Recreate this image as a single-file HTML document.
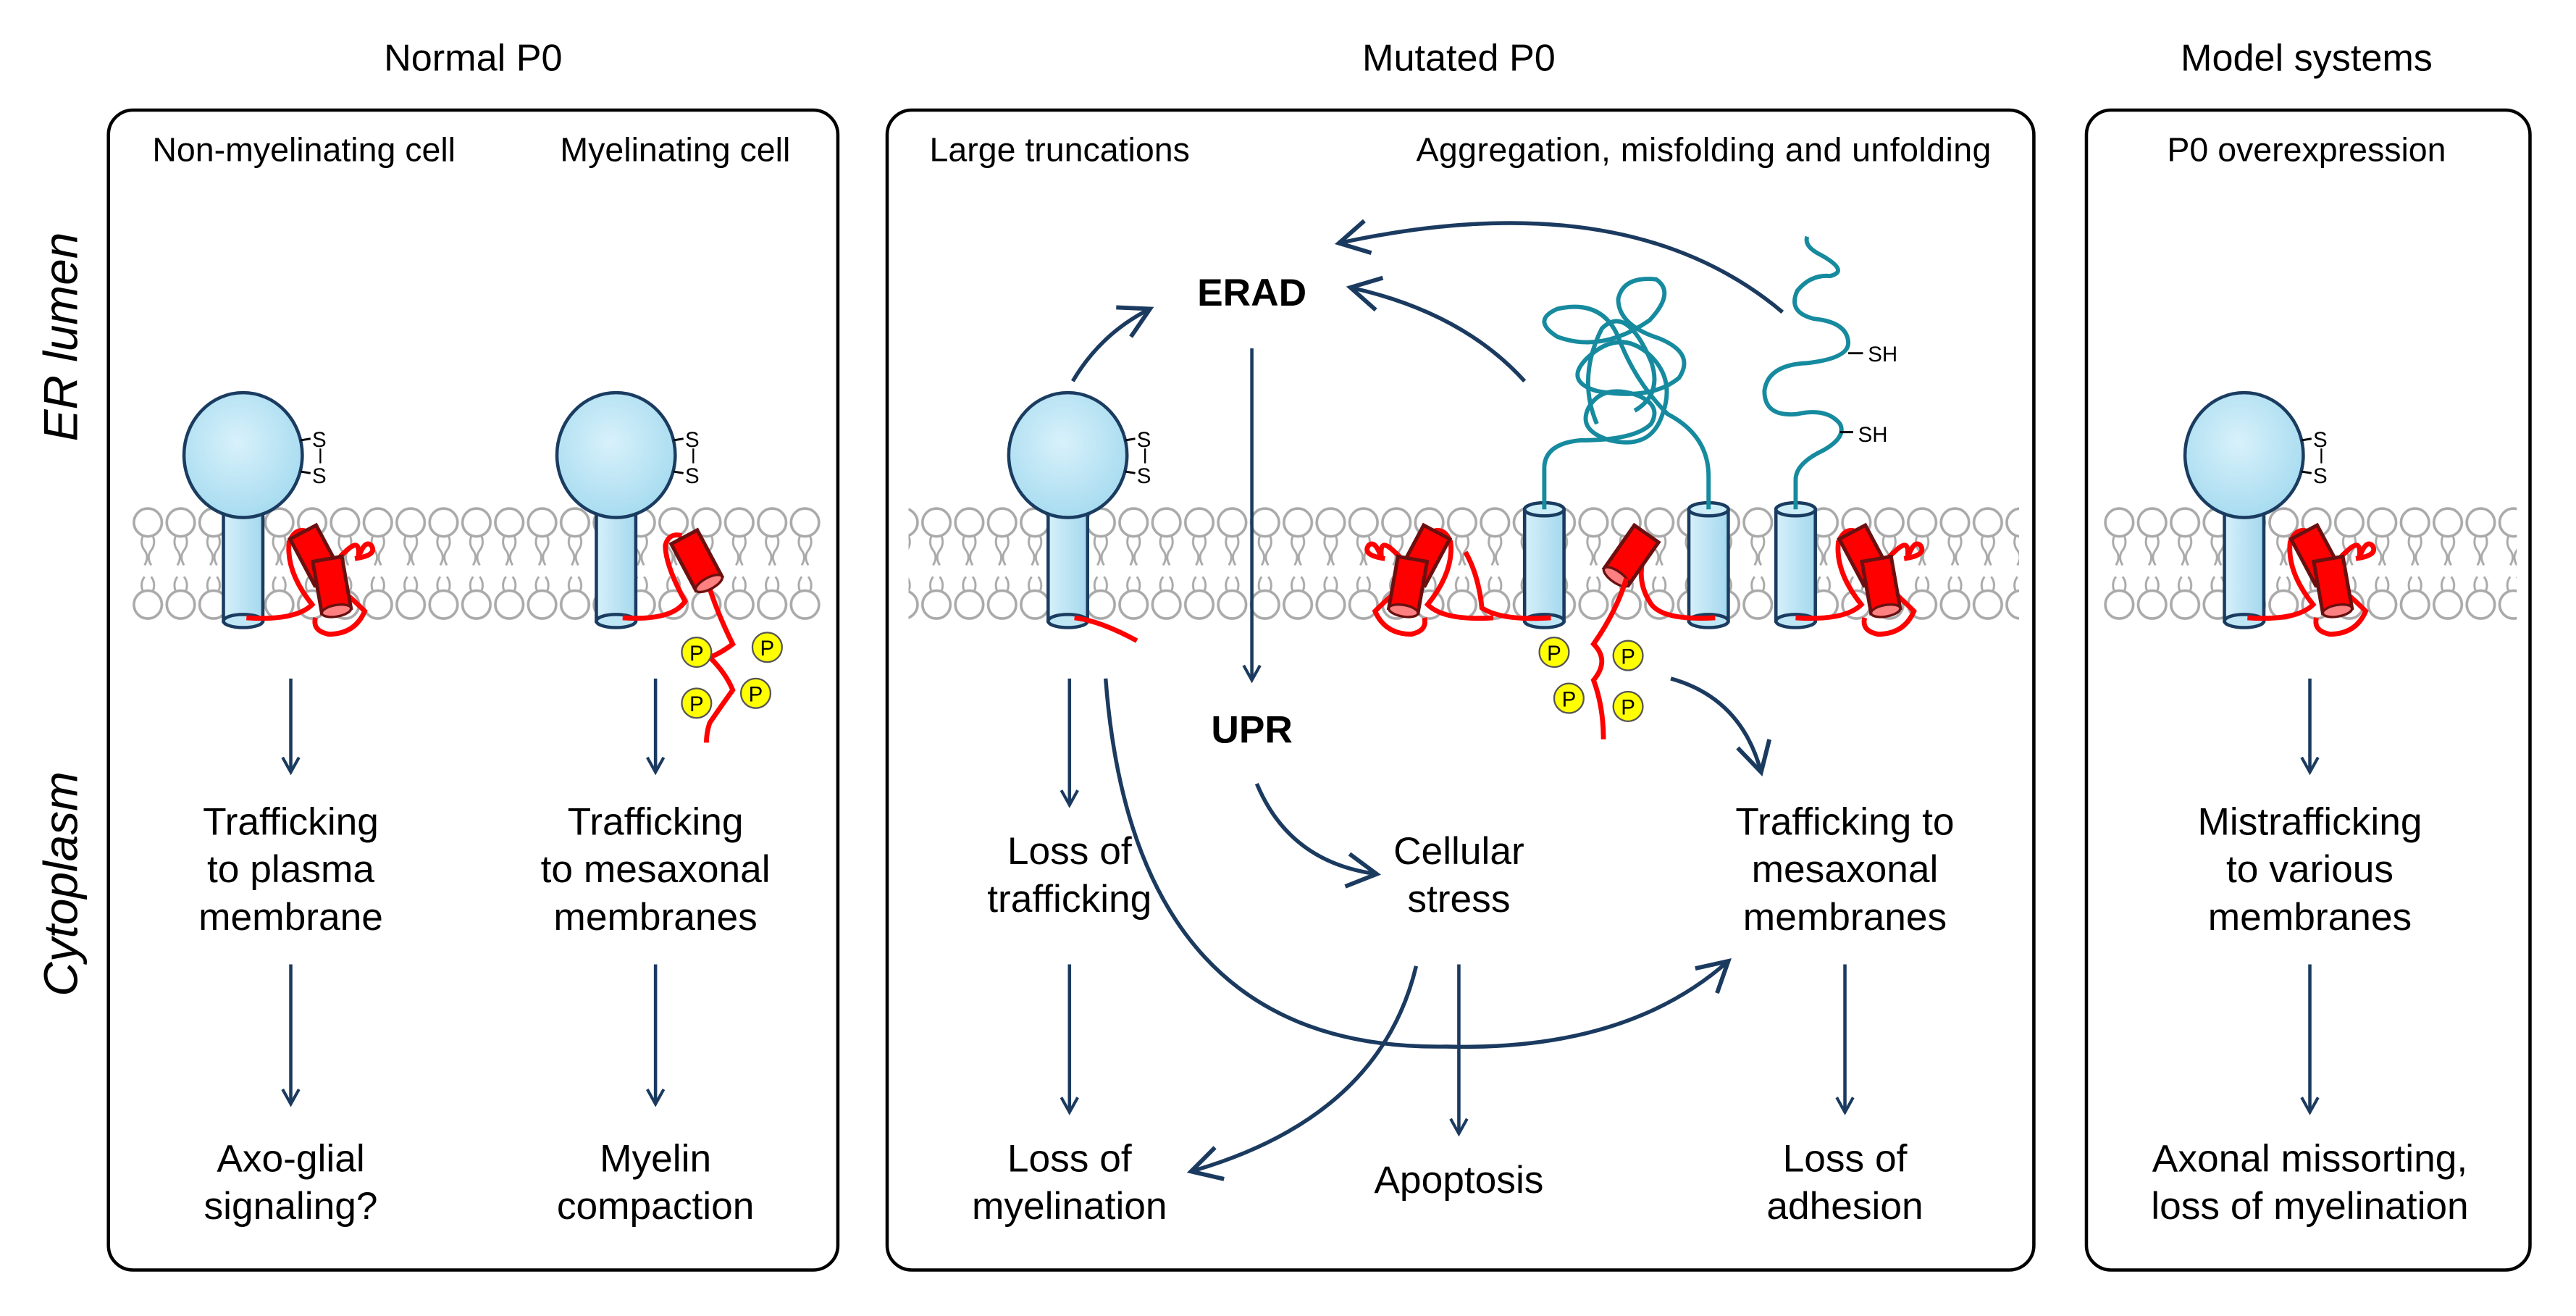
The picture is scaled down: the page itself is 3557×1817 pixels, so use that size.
<!DOCTYPE html>
<html><head><meta charset="utf-8"><style>
html,body{margin:0;padding:0;background:#fff}
svg{display:block}
text{font-family:"Liberation Sans",Arial,sans-serif;fill:#000}
</style></head><body>
<svg width="3557" height="1817" viewBox="0 0 1568 801" preserveAspectRatio="none" xmlns="http://www.w3.org/2000/svg">
<defs>
<pattern id="lip" x="0" y="0" width="20" height="801" patternUnits="userSpaceOnUse">
 <circle cx="10" cy="318" r="8.5" fill="#fff" stroke="#aaa" stroke-width="1.6"/>
 <circle cx="10" cy="368" r="8.5" fill="#fff" stroke="#aaa" stroke-width="1.6"/>
 <path d="M7 326 q-2 5 1 9 q3 4 0 9 M13 326 q2 5 -1 9 q-3 4 0 9 M7 360 q-2 -5 1 -9 M13 360 q2 -5 -1 -9" fill="none" stroke="#aaa" stroke-width="1.3"/>
</pattern>
<radialGradient id="bg" cx="0.45" cy="0.4" r="0.6"><stop offset="0" stop-color="#d8f1fb"/><stop offset="1" stop-color="#a8dcf0"/></radialGradient>
<linearGradient id="sg" x1="0" x2="1"><stop offset="0" stop-color="#d6f0fa"/><stop offset="1" stop-color="#a4d8ee"/></linearGradient>
<marker id="ah" markerWidth="12" markerHeight="12" refX="10" refY="6" orient="auto" markerUnits="userSpaceOnUse" viewBox="0 0 12 12">
 <path d="M1 1 L10 6 L1 11" fill="none" stroke="#1b3a5f" stroke-width="1.8"/>
</marker>
<marker id="ah2" markerWidth="24" markerHeight="24" refX="20" refY="12" orient="auto" markerUnits="userSpaceOnUse" viewBox="0 0 24 24">
 <path d="M2 2 L20 12 L2 22" fill="none" stroke="#1b3a5f" stroke-width="2.6"/>
</marker>
<g id="cyl">
 <rect x="-9" y="-16" width="18" height="32" fill="#ff0000" stroke="#6b1010" stroke-width="2.2"/>
 <ellipse cx="0" cy="16" rx="9" ry="3.5" fill="#ff8080" stroke="#6b1010" stroke-width="1.5"/>
</g>
<g id="stem">
 <rect x="-12" y="0" width="24" height="68" fill="url(#sg)" stroke="#1a3c60" stroke-width="2"/>
 <ellipse cx="0" cy="68" rx="12" ry="4" fill="#bfe6f5" stroke="#1a3c60" stroke-width="2"/>
 <ellipse cx="0" cy="0" rx="12" ry="4" fill="#cdeef9" stroke="#1a3c60" stroke-width="2"/>
</g>
<g id="p0">
 <use href="#stem" x="0" y="310"/>
 <ellipse cx="0" cy="277" rx="36" ry="38" fill="url(#bg)" stroke="#1a3c60" stroke-width="2"/>
 <line x1="35" y1="268" x2="41" y2="267" stroke="#000" stroke-width="1.3"/>
 <line x1="35" y1="287" x2="41" y2="288" stroke="#000" stroke-width="1.3"/>
 <line x1="47" y1="273" x2="47" y2="282" stroke="#000" stroke-width="1"/>
 <text x="42" y="272" font-size="13">S</text>
 <text x="42" y="294" font-size="13">S</text>
</g>
<g id="redp">
 <path d="M-4 376 q30 2 40 -8 q-16 -20 -14 -38 q4 -10 12 -6" fill="none" stroke="#f00" stroke-width="3"/>
 <path d="M38 376 q-2 8 8 10 q16 0 22 -14 q-10 -10 -16 -14 q-6 -14 4 -22 q10 -10 8 4 q4 -12 8 -8 q4 6 -10 8" fill="none" stroke="#f00" stroke-width="3"/>
 <g transform="translate(38,338) rotate(-28)"><use href="#cyl"/></g>
 <g transform="translate(48,356) rotate(-10)"><use href="#cyl"/></g>
</g>
</defs>

<!-- headings -->
<text x="288" y="43" font-size="23" text-anchor="middle">Normal P0</text>
<text x="888" y="43" font-size="23" text-anchor="middle">Mutated P0</text>
<text x="1404" y="43" font-size="23" text-anchor="middle">Model systems</text>
<text transform="translate(47,205) rotate(-90)" font-size="29" font-style="italic" text-anchor="middle">ER lumen</text>
<text transform="translate(47,538) rotate(-90)" font-size="29" font-style="italic" text-anchor="middle">Cytoplasm</text>

<!-- panels -->
<rect x="66" y="67" width="444" height="706" rx="15" fill="none" stroke="#000" stroke-width="2"/>
<rect x="540" y="67" width="698" height="706" rx="15" fill="none" stroke="#000" stroke-width="2"/>
<rect x="1270" y="67" width="270" height="706" rx="15" fill="none" stroke="#000" stroke-width="2"/>

<g font-size="20.5" text-anchor="middle">
<text x="185" y="98">Non-myelinating cell</text>
<text x="411" y="98">Myelinating cell</text>
<text x="645" y="98">Large truncations</text>
<text x="1037" y="98" textLength="350">Aggregation, misfolding and unfolding</text>
<text x="1404" y="98">P0 overexpression</text>
</g>

<!-- membranes -->
<rect x="80" y="300" width="420" height="80" fill="url(#lip)"/>
<rect x="553" y="300" width="676" height="80" fill="url(#lip)"/>
<rect x="1280" y="300" width="252" height="80" fill="url(#lip)"/>

<!-- panel1 proteins -->
<use href="#p0" x="148"/>
<use href="#redp" x="154"/>
<use href="#p0" x="375"/>
<path d="M379 376 q30 2 38 -10 q-12 -22 -12 -34 q2 -8 10 -6" fill="none" stroke="#f00" stroke-width="3"/>
<path d="M430 352 q6 20 16 40 q-8 6 -14 8 q10 10 14 20 q-10 14 -14 20 q-2 6 -2 12" fill="none" stroke="#f00" stroke-width="3"/>
<g transform="translate(424,341) rotate(-28)"><use href="#cyl"/></g>
<g font-size="13" text-anchor="middle">
<circle cx="424" cy="397" r="9" fill="#ff0" stroke="#555"/><text x="424" y="402">P</text>
<circle cx="467" cy="394" r="9" fill="#ff0" stroke="#555"/><text x="467" y="399">P</text>
<circle cx="460" cy="422" r="9" fill="#ff0" stroke="#555"/><text x="460" y="427">P</text>
<circle cx="424" cy="428" r="9" fill="#ff0" stroke="#555"/><text x="424" y="433">P</text>
</g>

<!-- panel2 proteins -->
<use href="#p0" x="650"/>
<path d="M654 376 q16 2 38 14" fill="none" stroke="#f00" stroke-width="3"/>
<use href="#stem" x="940" y="310"/>
<use href="#stem" x="1040" y="310"/>
<use href="#stem" x="1093" y="310"/>
<g transform="translate(-15,0) scale(-1,1) translate(-920,0)"><use href="#redp" x="0"/></g>
<path d="M944 376 q-30 2 -42 -6 q-2 -20 -10 -34" fill="none" stroke="#f00" stroke-width="3"/>
<use href="#redp" x="1097"/>
<path d="M1044 376 q-34 2 -40 -10 q-10 -16 0 -36" fill="none" stroke="#f00" stroke-width="3"/>
<g transform="translate(993,338) rotate(35)"><use href="#cyl"/></g>
<path d="M990 352 q-6 20 -20 40 q10 10 0 22 q6 16 6 36" fill="none" stroke="#f00" stroke-width="3"/>
<g font-size="13" text-anchor="middle">
<circle cx="946" cy="397" r="9" fill="#ff0" stroke="#555"/><text x="946" y="402">P</text>
<circle cx="991" cy="399" r="9" fill="#ff0" stroke="#555"/><text x="991" y="404">P</text>
<circle cx="955" cy="425" r="9" fill="#ff0" stroke="#555"/><text x="955" y="430">P</text>
<circle cx="991" cy="430" r="9" fill="#ff0" stroke="#555"/><text x="991" y="435">P</text>
</g>
<!-- teal tangles -->
<g fill="none" stroke="#168a9e" stroke-width="2.6">
<path d="M940 310 V285 Q940 270 962 268 Q995 268 1005 258 Q1012 246 995 240 Q975 234 967 248 Q960 262 980 268 Q1005 274 1012 252 Q1020 230 1003 215 Q985 200 966 218 Q952 232 972 238 Q1005 244 1022 230 Q1032 215 1010 206 Q985 198 985 182 Q988 168 1008 170 Q1020 178 1004 195 Q975 215 948 205 Q932 195 948 188 Q975 182 985 205 Q995 232 1015 252 Q1040 265 1040 290 V310"/>
<path d="M972 258 Q960 230 975 200 Q990 185 1005 220 Q1012 240 995 250"/>
<path d="M1093 310 V292 Q1093 282 1110 274 Q1124 266 1120 258 Q1112 248 1094 252 Q1074 254 1074 238 Q1076 222 1100 221 Q1126 218 1125 208 Q1124 196 1104 194 Q1088 190 1094 177 Q1102 167 1114 168 Q1126 165 1108 155 Q1098 150 1100 144"/>
</g>
<line x1="1125" y1="215" x2="1134" y2="215" stroke="#000" stroke-width="1.3"/>
<line x1="1120" y1="263" x2="1128" y2="263" stroke="#000" stroke-width="1.3"/>
<text x="1137" y="220" font-size="13">SH</text>
<text x="1131" y="269" font-size="13">SH</text>

<!-- panel3 protein -->
<use href="#p0" x="1366"/>
<use href="#redp" x="1372"/>

<!-- labels -->
<g font-size="23.5" text-anchor="middle">
<text x="177" y="508">Trafficking</text><text x="177" y="537">to plasma</text><text x="177" y="566">membrane</text>
<text x="177" y="713">Axo-glial</text><text x="177" y="742">signaling?</text>
<text x="399" y="508">Trafficking</text><text x="399" y="537">to mesaxonal</text><text x="399" y="566">membranes</text>
<text x="399" y="713">Myelin</text><text x="399" y="742">compaction</text>
<text x="651" y="526">Loss of</text><text x="651" y="555">trafficking</text>
<text x="651" y="713">Loss of</text><text x="651" y="742">myelination</text>
<text x="888" y="526">Cellular</text><text x="888" y="555">stress</text>
<text x="888" y="726">Apoptosis</text>
<text x="1123" y="508">Trafficking to</text><text x="1123" y="537">mesaxonal</text><text x="1123" y="566">membranes</text>
<text x="1123" y="713">Loss of</text><text x="1123" y="742">adhesion</text>
<text x="1406" y="508">Mistrafficking</text><text x="1406" y="537">to various</text><text x="1406" y="566">membranes</text>
<text x="1406" y="713">Axonal missorting,</text><text x="1406" y="742">loss of myelination</text>
<text x="762" y="186" font-weight="bold">ERAD</text>
<text x="762" y="452" font-weight="bold">UPR</text>
</g>

<!-- arrows -->
<g fill="none" stroke="#1b3a5f" stroke-width="2" marker-end="url(#ah)">
<line x1="177" y1="413" x2="177" y2="470"/>
<line x1="177" y1="587" x2="177" y2="672"/>
<line x1="399" y1="413" x2="399" y2="470"/>
<line x1="399" y1="587" x2="399" y2="672"/>
<line x1="651" y1="413" x2="651" y2="490"/>
<line x1="651" y1="587" x2="651" y2="677"/>
<line x1="888" y1="587" x2="888" y2="690"/>
<line x1="1123" y1="587" x2="1123" y2="677"/>
<line x1="1406" y1="413" x2="1406" y2="470"/>
<line x1="1406" y1="587" x2="1406" y2="677"/>
<line x1="762" y1="212" x2="762" y2="414"/>
</g>
<g fill="none" stroke="#1b3a5f" stroke-width="2.4" marker-end="url(#ah2)">
<path d="M653 232 Q670 203 700 188"/>
<path d="M928 232 Q890 190 822 175"/>
<path d="M1085 190 Q990 110 815 148"/>
<path d="M765 477 Q785 525 838 532"/>
<path d="M1017 413 Q1060 425 1072 470"/>
<path d="M673 413 Q690 640 880 637 Q990 640 1052 585"/>
<path d="M862 588 Q840 680 725 713"/>
</g>
</svg>
</body></html>
